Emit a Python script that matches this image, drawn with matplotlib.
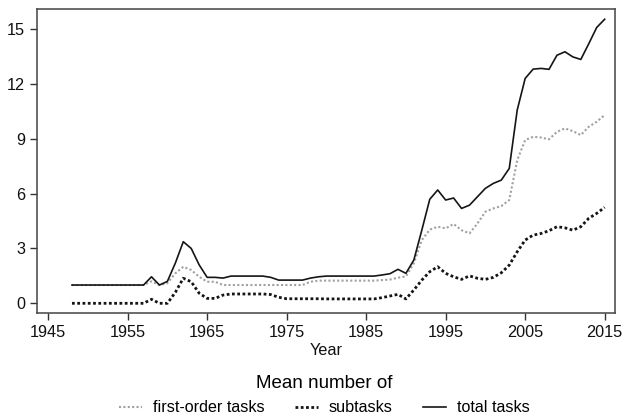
import matplotlib
matplotlib.use("Agg")
import matplotlib.pyplot as plt

plt.rcParams['font.family'] = ['Liberation Sans', 'DejaVu Sans']

years = list(range(1948, 2016))

total_tasks = [
    1.0, 1.0, 1.0, 1.0, 1.0, 1.0, 1.0, 1.0, 1.0, 1.0,        # 1948-1957
    1.45, 1.0, 1.2, 2.2, 3.37, 3.0, 2.1, 1.42, 1.42, 1.38,   # 1958-1967
    1.49, 1.49, 1.49, 1.49, 1.49, 1.42, 1.27, 1.27, 1.27, 1.27,  # 1968-1977
    1.38, 1.45, 1.49, 1.49, 1.49, 1.49, 1.49, 1.49, 1.49, 1.55,  # 1978-1987
    1.62, 1.86, 1.64, 2.37, 4.0, 5.69, 6.2, 5.65, 5.76, 5.19,    # 1988-1997
    5.37, 5.83, 6.29, 6.56, 6.74, 7.38, 10.57, 12.3, 12.81, 12.85,  # 1998-2007
    12.8, 13.57, 13.76, 13.48, 13.34, 14.2, 15.09, 15.54,     # 2008-2015
]

first_order_tasks = [
    1.0, 1.0, 1.0, 1.0, 1.0, 1.0, 1.0, 1.0, 1.0, 1.0,        # 1948-1957
    1.2, 1.0, 1.1, 1.64, 2.0, 1.82, 1.45, 1.18, 1.18, 1.0,   # 1958-1967
    1.0, 1.0, 1.0, 1.0, 1.0, 1.0, 1.0, 1.0, 1.0, 1.0,        # 1968-1977
    1.18, 1.24, 1.24, 1.24, 1.24, 1.24, 1.24, 1.24, 1.24, 1.27,  # 1978-1987
    1.3, 1.4, 1.47, 2.19, 3.46, 4.03, 4.19, 4.1, 4.34, 4.0,      # 1988-1997
    3.83, 4.37, 5.01, 5.19, 5.32, 5.65, 7.83, 8.93, 9.11, 9.07,  # 1998-2007
    8.97, 9.38, 9.57, 9.42, 9.2, 9.66, 9.93, 10.3,            # 2008-2015
]

subtasks = [
    0.0, 0.0, 0.0, 0.0, 0.0, 0.0, 0.0, 0.0, 0.0, 0.0,        # 1948-1957
    0.22, 0.0, 0.0, 0.6, 1.37, 1.18, 0.55, 0.27, 0.27, 0.45,  # 1958-1967
    0.51, 0.51, 0.51, 0.51, 0.51, 0.48, 0.33, 0.25, 0.25, 0.25,  # 1968-1977
    0.25, 0.25, 0.24, 0.24, 0.24, 0.24, 0.24, 0.24, 0.24, 0.31,  # 1978-1987
    0.4, 0.49, 0.24, 0.73, 1.27, 1.73, 2.0, 1.64, 1.45, 1.31,    # 1988-1997
    1.5, 1.37, 1.31, 1.42, 1.67, 2.09, 2.82, 3.46, 3.73, 3.82,   # 1998-2007
    3.97, 4.19, 4.13, 4.0, 4.19, 4.65, 4.92, 5.25,            # 2008-2015
]

x_ticks = [1945, 1955, 1965, 1975, 1985, 1995, 2005, 2015]
y_ticks = [0, 3, 6, 9, 12, 15]

fig = plt.figure(figsize=(6.24, 4.2), dpi=100)
ax = fig.add_axes([37 / 624, 1 - 313 / 420, (615 - 37) / 624, (313 - 9) / 420])

ax.plot(years, first_order_tasks, color='#a0a0a0', lw=1.5,
        linestyle=(0, (1, 1.1)), label='first-order tasks')
ax.plot(years, subtasks, color='#151515', lw=2.0,
        linestyle=(0, (1, 0.9)), label='subtasks')
ax.plot(years, total_tasks, color='#151515', lw=1.2,
        linestyle='-', label='total tasks')

ax.set_xlim(1943.6, 2016.3)
ax.set_ylim(-0.53, 16.1)
ax.set_xticks(x_ticks)
ax.set_yticks(y_ticks)
ax.tick_params(axis='both', direction='out', length=5, width=1,
               color='#333333', labelsize=11.7, labelcolor='#111111')
for s in ax.spines.values():
    s.set_color('#444444')
    s.set_linewidth(1.1)

ax.set_xlabel('Year', fontsize=11.7, labelpad=2, color='#111111')

leg = fig.legend(loc='lower center', bbox_to_anchor=(0.52, 0.0), ncol=3,
                 frameon=False, fontsize=11.6, title='Mean number of',
                 title_fontsize=13.5, handlelength=1.4, columnspacing=1.9,
                 handletextpad=0.7, borderaxespad=0.0, borderpad=0.3)

fig.savefig('out.png', dpi=100)
